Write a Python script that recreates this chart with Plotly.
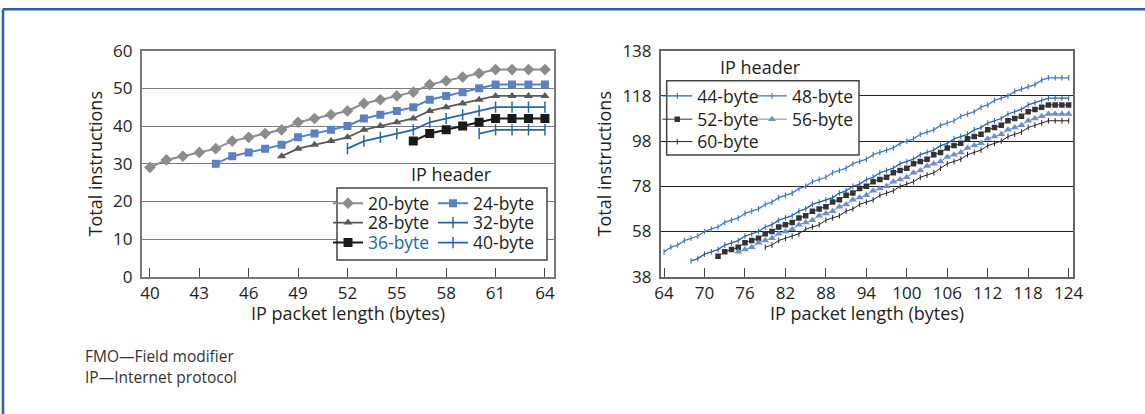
import plotly.graph_objects as go

# ---------------- data: left chart (IP packet length 40..64) ----------------
len_20 = list(range(40, 65))
instr_20 = [29, 31, 32, 33, 34, 36, 37, 38, 39, 41, 42, 43, 44, 46, 47, 48, 49, 51, 52, 53, 54, 55, 55, 55, 55]
len_24 = list(range(44, 65))
instr_24 = [30, 32, 33, 34, 35, 37, 38, 39, 40, 42, 43, 44, 45, 47, 48, 49, 50, 51, 51, 51, 51]
len_28 = list(range(48, 65))
instr_28 = [32, 34, 35, 36, 37, 39, 40, 41, 42, 44, 45, 46, 47, 48, 48, 48, 48]
len_32 = list(range(52, 65))
instr_32 = [34, 36, 37, 38, 39, 41, 42, 43, 44, 45, 45, 45, 45]
len_36 = list(range(56, 65))
instr_36 = [36, 38, 39, 40, 41, 42, 42, 42, 42]
len_40 = list(range(60, 65))
instr_40 = [38, 39, 39, 39, 39]

# ---------------- data: right chart (IP packet length 64..124) ----------------
len_48 = list(range(64, 125))
instr_48 = [49, 51, 52, 54, 55, 56, 58, 59, 60, 62, 63, 64, 66, 67, 68, 70, 71, 73, 74, 75,
            77, 78, 80, 81, 82, 84, 85, 86, 88, 89, 90, 92, 93, 94, 95, 97, 98, 99, 101, 102,
            103, 105, 106, 107, 109, 110, 111, 113, 114, 116, 117, 118, 120, 121, 122, 123, 125, 126, 126, 126,
            126]
len_44 = list(range(68, 125))
instr_44 = [45, 46, 48, 49, 50, 52, 53, 54, 56, 57, 58, 60, 61, 63, 64, 65, 67, 68, 70, 71,
            72, 73, 75, 76, 78, 79, 81, 82, 84, 85, 86, 88, 89, 90, 92, 93, 94, 96, 97, 99,
            100, 101, 103, 104, 106, 107, 108, 110, 111, 112, 114, 115, 116, 117, 117, 117, 117]
len_52 = list(range(72, 125))
instr_52 = [47, 49, 50, 51, 53, 54, 55, 57, 58, 60, 61, 62, 64, 65, 67, 68, 69, 71, 72, 74,
            75, 77, 78, 80, 81, 82, 84, 85, 86, 88, 89, 90, 92, 93, 95, 96, 97, 99, 100, 101,
            103, 104, 105, 107, 108, 109, 111, 112, 113, 114, 114, 114, 114]
len_56 = list(range(75, 125))
instr_56 = [49, 50, 51, 53, 54, 55, 57, 58, 59, 61, 62, 63, 65, 66, 67, 69, 70, 72, 73, 74,
            76, 77, 78, 80, 81, 82, 84, 85, 87, 88, 89, 91, 92, 93, 95, 96, 97, 99, 100, 101,
            103, 104, 105, 107, 108, 109, 110, 110, 110, 110]
len_60 = list(range(79, 125))
instr_60 = [51, 52, 54, 55, 56, 57, 59, 60, 61, 63, 64, 65, 67, 68, 70, 71, 72, 74, 75, 76,
            78, 79, 80, 82, 83, 84, 86, 88, 89, 90, 92, 93, 94, 96, 97, 98, 100, 101, 102, 104,
            105, 106, 107, 107, 107, 107]

left_xticks = [40, 43, 46, 49, 52, 55, 58, 61, 64]
left_yticks = [0, 10, 20, 30, 40, 50, 60]
right_xticks = [64, 70, 76, 82, 88, 94, 100, 106, 112, 118, 124]
right_yticks = [38, 58, 78, 98, 118, 138]

W, H = 1145, 414
FONT = "Open Sans"
TXT = "#231f20"


def px(x):
    return x / W


def py(y):
    return (H - y) / H


BLUE = "#2463a8"

fig = go.Figure()

# left chart traces
fig.add_trace(go.Scatter(x=len_20, y=instr_20, name="20-byte", mode="lines+markers",
                         line=dict(color="#8c8c8c", width=2),
                         marker=dict(symbol="diamond", size=9, color="#8c8c8c"),
                         xaxis="x", yaxis="y", legend="legend"))
fig.add_trace(go.Scatter(x=len_24, y=instr_24, name="24-byte", mode="lines+markers",
                         line=dict(color="#5b80c4", width=2),
                         marker=dict(symbol="square", size=8, color="#5b80c4"),
                         xaxis="x", yaxis="y", legend="legend2"))
fig.add_trace(go.Scatter(x=len_28, y=instr_28, name="28-byte", mode="lines+markers",
                         line=dict(color="#595959", width=1.8),
                         marker=dict(symbol="triangle-up", size=8, color="#595959"),
                         xaxis="x", yaxis="y", legend="legend3"))
fig.add_trace(go.Scatter(x=len_32, y=instr_32, name="32-byte", mode="lines+markers",
                         line=dict(color="#2566ad", width=1.8),
                         marker=dict(symbol="line-ns-open", size=8, line=dict(color="#2566ad", width=1.5)),
                         xaxis="x", yaxis="y", legend="legend4"))
fig.add_trace(go.Scatter(x=len_36, y=instr_36, name="<span style='color:#2566ad'>36-byte</span>",
                         mode="lines+markers",
                         line=dict(color="#1a1a1a", width=2),
                         marker=dict(symbol="square", size=9, color="#1a1a1a"),
                         xaxis="x", yaxis="y", legend="legend5"))
fig.add_trace(go.Scatter(x=len_40, y=instr_40, name="40-byte", mode="lines+markers",
                         line=dict(color="#2566ad", width=1.8),
                         marker=dict(symbol="line-ns-open", size=8, line=dict(color="#2566ad", width=1.5)),
                         xaxis="x", yaxis="y", legend="legend6"))

# right chart traces
fig.add_trace(go.Scatter(x=len_44, y=instr_44, name="44-byte", mode="lines+markers",
                         line=dict(color="#1f63ad", width=1.3),
                         marker=dict(symbol="line-ns-open", size=4, line=dict(color="#1f63ad", width=1)),
                         xaxis="x2", yaxis="y2", legend="legend7"))
fig.add_trace(go.Scatter(x=len_48, y=instr_48, name="48-byte", mode="lines+markers",
                         line=dict(color="#3f7cc4", width=1.3),
                         marker=dict(symbol="line-ns-open", size=4, line=dict(color="#86aee2", width=1.2)),
                         xaxis="x2", yaxis="y2", legend="legend8"))
fig.add_trace(go.Scatter(x=len_52, y=instr_52, name="52-byte", mode="lines+markers",
                         line=dict(color="#333333", width=1),
                         marker=dict(symbol="square", size=5.5, color="#333333"),
                         xaxis="x2", yaxis="y2", legend="legend9"))
fig.add_trace(go.Scatter(x=len_56, y=instr_56, name="56-byte", mode="lines+markers",
                         line=dict(color="#6b8fd0", width=1),
                         marker=dict(symbol="triangle-up", size=7, color="#6b8fd0"),
                         xaxis="x2", yaxis="y2", legend="legend10"))
fig.add_trace(go.Scatter(x=len_60, y=instr_60, name="60-byte", mode="lines+markers",
                         line=dict(color="#222222", width=1),
                         marker=dict(symbol="line-ns-open", size=4, line=dict(color="#222222", width=1)),
                         xaxis="x2", yaxis="y2", legend="legend11"))

tickfont = dict(family=FONT, size=17, color=TXT)
titlefont = dict(family=FONT, size=18, color=TXT)

ydom = [py(276.7), py(50.7)]

common_x = dict(showgrid=False, zeroline=False, showline=True, mirror=True, automargin=False,
                ticks="inside", ticklen=9, tickwidth=1, tickcolor="#444",
                tickfont=tickfont)
common_y = dict(zeroline=False, showline=True, mirror=True, ticks="", automargin=False,
                tickfont=tickfont, title_font=titlefont, ticklabelstandoff=4)


def leg(x, y):
    return dict(orientation="v", bgcolor="rgba(0,0,0,0)", borderwidth=0,
                font=dict(family=FONT, size=17.5, color=TXT),
                xanchor="left", yanchor="middle", x=px(x), y=py(y))


# legend entry positions (left col, right col) in pixels
L1, L2, R1, R2 = 328, 433, 657.3, 752
fig.update_layout(
    template=None,
    width=W, height=H,
    margin=dict(l=0, r=0, t=0, b=0, pad=0, autoexpand=False),
    paper_bgcolor="white", plot_bgcolor="white",
    font=dict(family=FONT, color=TXT),
    showlegend=True,
    xaxis=dict(common_x, domain=[px(141.7), px(554)], range=[39.5, 64.55],
               tickvals=left_xticks, linecolor="#7a7a7a", linewidth=1.5, anchor="y"),
    yaxis=dict(common_y, domain=ydom, range=[0, 60], tickvals=left_yticks,
               showgrid=True, gridcolor="#7a7a7a", gridwidth=1,
               linecolor="#7a7a7a", linewidth=1.5,
               title=dict(text="Total instructions", standoff=6), anchor="x"),
    xaxis2=dict(common_x, domain=[px(660.7), px(1072.7)], range=[63.5, 124.6],
                tickvals=right_xticks, linecolor="#666666", linewidth=1.5, anchor="y2"),
    yaxis2=dict(common_y, domain=ydom, range=[38, 138], tickvals=right_yticks,
                showgrid=True, gridcolor="#222222", gridwidth=1,
                linecolor="#666666", linewidth=1.5,
                title=dict(text="Total instructions", standoff=6), anchor="x2"),
    legend=leg(L1, 203.3), legend2=leg(L2, 203.3),
    legend3=leg(L1, 222.7), legend4=leg(L2, 222.7),
    legend5=leg(L1, 242.7), legend6=leg(L2, 242.7),
    legend7=leg(R1, 96), legend8=leg(R2, 96),
    legend9=leg(R1, 119.3), legend10=leg(R2, 119.3),
    legend11=leg(R1, 141.7),
)

shapes = [
    # outer frame (top and left blue rules)
    dict(type="line", xref="paper", yref="paper", x0=px(3), x1=1, y0=py(9.3), y1=py(9.3),
         line=dict(color=BLUE, width=2.5)),
    dict(type="line", xref="paper", yref="paper", x0=px(3), x1=px(3), y0=0, y1=py(9.3),
         line=dict(color=BLUE, width=2.5)),
    # legend boxes
    dict(type="rect", xref="paper", yref="paper", x0=px(337), x1=px(547), y0=py(260), y1=py(188),
         line=dict(color="#444444", width=1.5), fillcolor="white", layer="above"),
    dict(type="rect", xref="paper", yref="paper", x0=px(666.7), x1=px(859), y0=py(155), y1=py(80.7),
         line=dict(color="#444444", width=1.5), fillcolor="white", layer="above"),
]
fig.update_layout(shapes=shapes)

annots = [
    dict(text="IP packet length (bytes)", x=px(347.8), y=py(312.5), xref="paper", yref="paper",
         showarrow=False, xanchor="center", yanchor="middle", font=titlefont),
    dict(text="IP packet length (bytes)", x=px(866.7), y=py(312.5), xref="paper", yref="paper",
         showarrow=False, xanchor="center", yanchor="middle", font=titlefont),
    dict(text="IP header", x=px(451.7), y=py(173.5), xref="paper", yref="paper",
         showarrow=False, xanchor="center", yanchor="middle",
         font=dict(family=FONT, size=18, color=TXT)),
    dict(text="IP header", x=px(760.8), y=py(66.7), xref="paper", yref="paper",
         showarrow=False, xanchor="center", yanchor="middle",
         font=dict(family=FONT, size=18, color=TXT)),
    dict(text="FMO—Field modifier", x=px(83), y=py(356), xref="paper", yref="paper",
         showarrow=False, xanchor="left", yanchor="middle",
         font=dict(family=FONT, size=15.5, color="#333333")),
    dict(text="IP—Internet protocol", x=px(83), y=py(377), xref="paper", yref="paper",
         showarrow=False, xanchor="left", yanchor="middle",
         font=dict(family=FONT, size=15.5, color="#333333")),
]
fig.update_layout(annotations=annots)

fig.write_html("out.html", config={"displayModeBar": False},
               post_script="document.body.style.margin='0';document.body.style.overflow='hidden';")
